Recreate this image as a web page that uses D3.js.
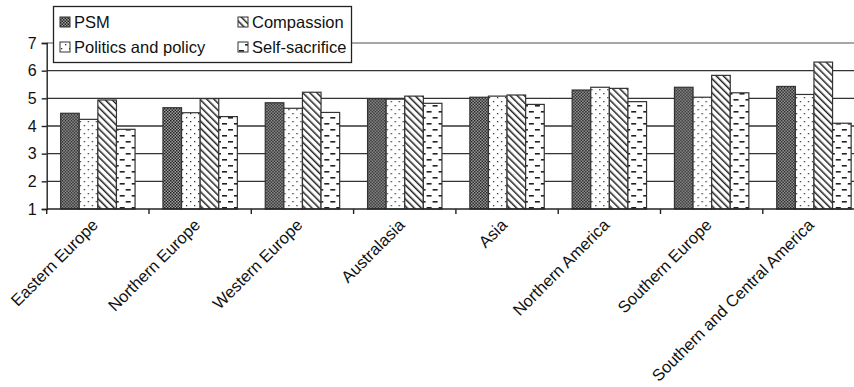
<!DOCTYPE html>
<html lang="en">
  <head>
    <meta charset="UTF-8" />
    <title>PSM by region</title>
    <script src="https://cdn.jsdelivr.net/npm/d3@7/dist/d3.min.js"></script>
    <style>
      body { margin: 0; background: #fff; }
      svg { display: block; font-family: 'Liberation Sans', Arial, sans-serif; }
    </style>
  </head>
  <body>
    <svg width="854" height="387"></svg>

    <script>
      // regions on the x axis
      const regions = [
        'Eastern Europe', 'Northern Europe', 'Western Europe', 'Australasia',
        'Asia', 'Northern America', 'Southern Europe', 'Southern and Central America',
      ]
      const seriesNames = ['PSM', 'Politics and policy', 'Compassion', 'Self-sacrifice']
      // values
      const psm = [4.46, 4.66, 4.84, 4.99, 5.04, 5.30, 5.40, 5.43]
      const politics = [4.24, 4.48, 4.64, 4.97, 5.08, 5.40, 5.04, 5.14]
      const compassion = [4.94, 4.99, 5.22, 5.08, 5.12, 5.36, 5.83, 6.31]
      const selfSacrifice = [3.88, 4.34, 4.49, 4.82, 4.78, 4.88, 5.20, 4.10]
      const yTicks = [1, 2, 3, 4, 5, 6, 7]

      const seriesValues = [psm, politics, compassion, selfSacrifice]
      const patternIds = ['p-psm', 'p-pol', 'p-com', 'p-self']

      const svg = d3.select('svg')
      const plotLeft = 46.7
      const step = 102.3
      const plotTop = 43
      const plotBottom = 209

      const x0 = d3.scaleBand().domain(regions).range([plotLeft, plotLeft + step * regions.length])
      const x1 = d3.scaleBand().domain(seriesNames).range([0, x0.bandwidth()]).paddingInner(0).paddingOuter(0.75)
      const y = d3.scaleLinear().domain([1, 7]).range([plotBottom, plotTop])

      // fill patterns
      const defs = svg.append('defs')
      const pPsm = defs.append('pattern').attr('id', 'p-psm').attr('patternUnits', 'userSpaceOnUse')
        .attr('width', 3).attr('height', 3)
      pPsm.append('rect').attr('width', 3).attr('height', 3).attr('fill', '#a0a0a0')
      pPsm.append('rect').attr('width', 1.5).attr('height', 1.5).attr('fill', '#222')
      pPsm.append('rect').attr('x', 1.5).attr('y', 1.5).attr('width', 1.5).attr('height', 1.5).attr('fill', '#222')

      const pPol = defs.append('pattern').attr('id', 'p-pol').attr('patternUnits', 'userSpaceOnUse')
        .attr('width', 8).attr('height', 8)
      pPol.append('rect').attr('width', 8).attr('height', 8).attr('fill', '#fff')
      pPol.append('rect').attr('x', 1).attr('y', 1).attr('width', 1.3).attr('height', 1.3).attr('fill', '#333')
      pPol.append('rect').attr('x', 5).attr('y', 5).attr('width', 1.3).attr('height', 1.3).attr('fill', '#333')

      // back-slash hatch
      const pCom = defs.append('pattern').attr('id', 'p-com').attr('patternUnits', 'userSpaceOnUse')
        .attr('width', 5).attr('height', 5).attr('patternTransform', 'rotate(-45)')
      pCom.append('rect').attr('width', 5).attr('height', 5).attr('fill', '#fff')
      pCom.append('rect').attr('x', 0).attr('width', 1.5).attr('height', 5).attr('fill', '#222')

      const pSelf = defs.append('pattern').attr('id', 'p-self').attr('patternUnits', 'userSpaceOnUse')
        .attr('width', 12).attr('height', 12)
      pSelf.append('rect').attr('width', 12).attr('height', 12).attr('fill', '#fff')
      pSelf.append('rect').attr('x', 1).attr('y', 3).attr('width', 5).attr('height', 1.6).attr('fill', '#222')
      pSelf.append('rect').attr('x', 7).attr('y', 9).attr('width', 5).attr('height', 1.6).attr('fill', '#222')

      // gridlines
      svg.append('g').selectAll('line').data(yTicks.slice(1)).enter().append('line')
        .attr('x1', plotLeft).attr('x2', 854)
        .attr('y1', (d) => y(d)).attr('y2', (d) => y(d))
        .attr('stroke', (d) => (d === 7 ? '#8a8a8a' : '#333'))
        .attr('stroke-width', 1.4)

      // bars
      const groups = svg.append('g').selectAll('g').data(regions).enter().append('g')
        .attr('transform', (d) => `translate(${x0(d)},0)`)
      groups.selectAll('rect')
        .data((d, i) => seriesNames.map((s, k) => ({ s, k, v: seriesValues[k][i] })))
        .enter().append('rect')
        .attr('x', (d) => x1(d.s))
        .attr('width', x1.bandwidth())
        .attr('y', (d) => y(d.v))
        .attr('height', (d) => y(1) - y(d.v))
        .attr('fill', (d) => `url(#${patternIds[d.k]})`)
        .attr('stroke', '#333')
        .attr('stroke-width', 1.2)

      // y axis
      const yAxis = svg.append('g').attr('transform', `translate(${plotLeft},0)`)
        .call(d3.axisLeft(y).tickValues(yTicks).tickSize(5).tickPadding(5).tickFormat(d3.format('d')))
      yAxis.select('.domain').attr('stroke', '#222').attr('stroke-width', 1.4)
      yAxis.selectAll('.tick line').attr('stroke', '#222').attr('stroke-width', 1.4)
      yAxis.selectAll('text').attr('fill', '#111').style('font-size', '16px')

      // x axis with ticks on band edges
      const xAxis = svg.append('g')
      xAxis.append('line').attr('x1', plotLeft).attr('x2', 854).attr('y1', plotBottom).attr('y2', plotBottom)
        .attr('stroke', '#222').attr('stroke-width', 1.6)
      xAxis.selectAll('.edge').data(regions).enter().append('line').attr('class', 'edge')
        .attr('x1', (d) => x0(d)).attr('x2', (d) => x0(d))
        .attr('y1', plotBottom).attr('y2', plotBottom + 5)
        .attr('stroke', '#222').attr('stroke-width', 1.4)
      xAxis.selectAll('text').data(regions).enter().append('text')
        .attr('transform', (d) => `translate(${x0(d) + x0.bandwidth() / 2 - 3},${plotBottom + 13}) rotate(-45)`)
        .attr('text-anchor', 'end')
        .attr('dy', '0.35em')
        .style('font-size', '16.5px')
        .attr('fill', '#111')
        .text((d) => d)

      // legend
      const legend = svg.append('g')
      legend.append('rect').attr('x', 53.5).attr('y', 6.5).attr('width', 298).attr('height', 56)
        .attr('fill', '#fff').attr('stroke', '#222').attr('stroke-width', 1.3)
      const legendPos = [[60, 22], [60, 47], [238, 22], [238, 47]]
      const items = legend.selectAll('g').data(seriesNames).enter().append('g')
        .attr('transform', (d, i) => `translate(${legendPos[i][0]},${legendPos[i][1]})`)
      items.append('rect').attr('x', 0).attr('y', -5).attr('width', 10).attr('height', 10)
        .attr('fill', (d, i) => `url(#${patternIds[i]})`).attr('stroke', '#333').attr('stroke-width', 1)
      items.append('text').attr('x', 14).attr('dy', '0.35em')
        .style('font-size', '16.5px').attr('fill', '#111')
        .text((d) => d)
    </script>
  </body>
</html>
